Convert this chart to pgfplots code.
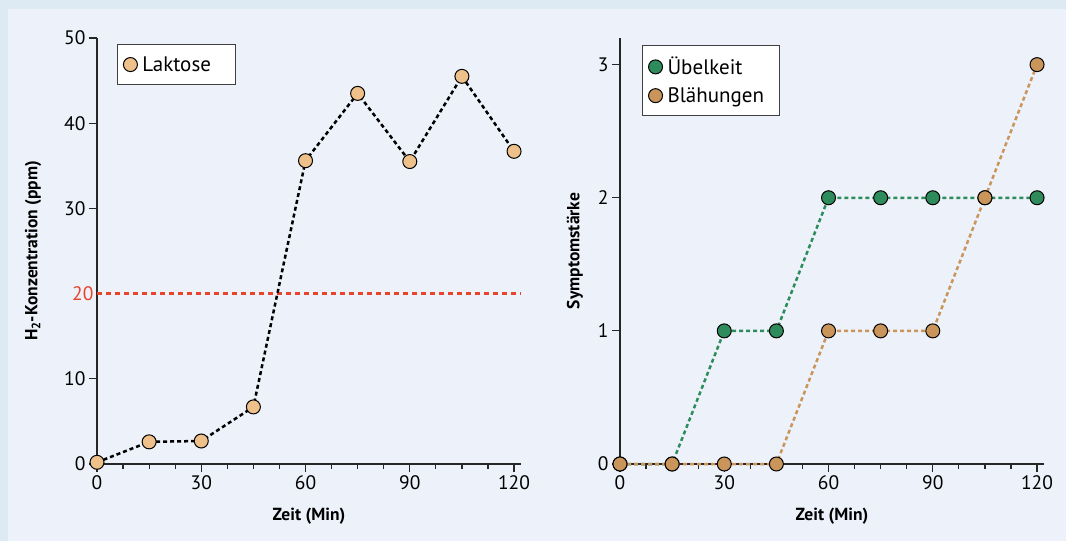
\documentclass[border=0pt]{standalone}
\usepackage{fontspec}
\setmainfont{PT Sans}
\usepackage{pgfplots}
\pgfplotsset{compat=1.18}
\definecolor{bgout}{HTML}{DDE9F3}
\definecolor{bgin}{HTML}{EDF2FA}
\definecolor{lak}{HTML}{EFC18A}
\definecolor{grn}{HTML}{2E8B5C}
\definecolor{tan}{HTML}{C9955A}
\definecolor{rd}{HTML}{E8432C}
\pgfplotsset{
  mystyle/.style={
    scale only axis, width=424pt, height=426pt,
    xmin=0, xmax=122, ymin=0,
    axis x line=bottom, axis y line=left,
    axis line style={-, line width=1.2pt, black!85},
    tick align=outside, major tick length=8pt, minor tick length=5pt,
    tick style={line width=1.2pt, black!85},
    xtick={0,30,...,120}, minor x tick num=3,
    ticklabel style={font=\fontsize{19.5}{22}\selectfont},
    /pgf/number format/assume math mode=true,
    label style={font=\fontsize{17.5}{20}\selectfont\bfseries},
    xlabel={Zeit (Min)},
    xlabel style={yshift=-12pt},
    ylabel style={yshift=8pt},
    clip=false,
    legend cell align=left,
    legend style={draw=black!75, line width=1pt, fill=white, font=\fontsize{21}{24}\selectfont, inner xsep=6pt, inner ysep=10pt, row sep=7pt,
      nodes={inner xsep=5pt}},
    legend image code/.code={\draw[#1] plot coordinates {(11pt,0pt)};},
  },
  mk/.style={mark=*, mark size=7pt, mark options={fill=#1, draw=black, line width=1pt, solid}},
}
\begin{document}
\begin{tikzpicture}
\fill[bgout] (0pt,0pt) rectangle (1066pt,541pt);
\fill[bgin] (8pt,0pt) rectangle (1066pt,532pt);
\begin{axis}[mystyle, at={(97pt,77pt)}, anchor=south west,
  ymax=50, ytick={0,10,30,40,50},
  extra y ticks={20}, extra y tick style={major tick length=0pt, yticklabel style={text=rd}},
  ylabel={H\textsubscript{2}-Konzentration (ppm)},
  legend style={at={(axis description cs:0.047,0.986)}, anchor=north west}]
\addplot[color=rd, line width=2.5pt, dash pattern=on 5pt off 4pt, forget plot] coordinates {(0,20) (122,20)};
\addplot[color=black, line width=2.5pt, dash pattern=on 4pt off 3pt, mk=lak] coordinates {
(0,0.2) (15,2.6) (30,2.7) (45,6.7) (60,35.6) (75,43.5) (90,35.5) (105,45.5) (120,36.7)};
\addlegendentry{Laktose\kern14pt}
\end{axis}
\begin{axis}[mystyle, at={(620pt,77pt)}, anchor=south west,
  ymax=3.2, ytick={0,1,2,3},
  ylabel={Symptomstärke},
  legend style={at={(axis description cs:0.052,0.984)}, anchor=north west}]
\addplot[color=grn, line width=2.5pt, dash pattern=on 4pt off 3pt, mk=grn] coordinates {
(0,0) (15,0) (30,1) (45,1) (60,2) (75,2) (90,2) (105,2) (120,2)};
\addlegendentry{Übelkeit}
\addplot[color=tan, line width=2.5pt, dash pattern=on 4pt off 3pt, mk=tan] coordinates {
(0,0) (15,0) (30,0) (45,0) (60,1) (75,1) (90,1) (105,2) (120,3)};
\addlegendentry{Blähungen\kern4pt}
\end{axis}
\end{tikzpicture}
\end{document}
